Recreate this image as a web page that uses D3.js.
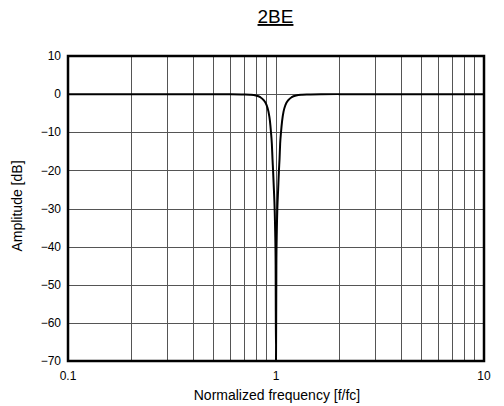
<!DOCTYPE html>
<html>
<head>
<meta charset="utf-8">
<script src="https://cdn.jsdelivr.net/npm/d3@7"></script>
<style>
  body { margin: 0; background: #fff; }
  text { font-family: "Liberation Sans", Arial, sans-serif; fill: #000; }
</style>
</head>
<body>
<div id="chart"></div>
<script>
// response (normalized freq, dB)
var freqs = [0.1, 0.3, 0.5, 0.6, 0.7, 0.75, 0.8, 0.84, 0.87, 0.9, 0.92, 0.935, 0.946, 0.955, 0.962, 0.968,
             0.977, 0.985, 0.991, 0.996, 1.0,
             1.004, 1.009, 1.015, 1.024, 1.033, 1.04, 1.047, 1.057, 1.07, 1.087, 1.111, 1.149, 1.19,
             1.25, 1.333, 1.429, 1.667, 2, 3.333, 10];
var amps = [0, 0, 0, -0.02, -0.08, -0.15, -0.35, -0.8, -1.5, -2.8, -4.6, -7, -10, -13, -17, -20,
            -25, -30, -36, -45, -70,
            -45, -36, -30, -25, -20, -17, -13, -10, -7, -4.6, -2.8, -1.5, -0.8,
            -0.35, -0.15, -0.08, -0.02, 0, 0, 0];
var yTicks = [10, 0, -10, -20, -30, -40, -50, -60, -70];
var xTicks = [0.1, 1, 10];
var xGrid = [0.2, 0.3, 0.4, 0.5, 0.6, 0.7, 0.8, 0.9, 1, 2, 3, 4, 5, 6, 7, 8, 9];

var W = 504, H = 406;
var pLeft = 68, pRight = 484, pTop = 56, pBottom = 361;

var svg = d3.select("#chart").append("svg")
    .attr("width", W)
    .attr("height", H);

var x = d3.scaleLog().domain([0.1, 10]).range([pLeft, pRight]);
var y = d3.scaleLinear().domain([-70, 10]).range([pBottom, pTop]);

svg.append("defs").append("clipPath").attr("id", "clip")
  .append("rect")
    .attr("x", pLeft).attr("y", pTop)
    .attr("width", pRight - pLeft).attr("height", pBottom - pTop);

// grid
svg.append("g").selectAll("line").data(xGrid).enter().append("line")
    .attr("x1", function(d){return Math.round(x(d)) + 0.5;})
    .attr("x2", function(d){return Math.round(x(d)) + 0.5;})
    .attr("y1", pTop).attr("y2", pBottom)
    .attr("stroke", "#555").attr("stroke-width", 1);

svg.append("g").selectAll("line").data(yTicks.slice(1, -1)).enter().append("line")
    .attr("x1", pLeft).attr("x2", pRight)
    .attr("y1", function(d){return Math.round(y(d)) + 0.5;})
    .attr("y2", function(d){return Math.round(y(d)) + 0.5;})
    .attr("stroke", "#555").attr("stroke-width", 1);

// curve
var line = d3.line()
    .x(function(d){return x(d[0]);})
    .y(function(d){return y(d[1]);})
    .curve(d3.curveMonotoneX);

svg.append("path")
    .datum(d3.zip(freqs, amps))
    .attr("clip-path", "url(#clip)")
    .attr("d", line)
    .attr("fill", "none")
    .attr("stroke", "#000")
    .attr("stroke-width", 2);

// frame
svg.append("rect")
    .attr("x", pLeft).attr("y", pTop)
    .attr("width", pRight - pLeft).attr("height", pBottom - pTop)
    .attr("fill", "none")
    .attr("stroke", "#000")
    .attr("stroke-width", 2.5);

// tick labels
svg.append("g").selectAll("text").data(yTicks).enter().append("text")
    .attr("x", 61)
    .attr("y", function(d){return y(d);})
    .attr("dy", "0.35em")
    .attr("text-anchor", "end")
    .style("font-size", "12px")
    .text(function(d){return d < 0 ? "\u2212" + Math.abs(d) : d;});

svg.append("g").selectAll("text").data(xTicks).enter().append("text")
    .attr("x", function(d){return x(d);})
    .attr("y", 380)
    .attr("text-anchor", "middle")
    .style("font-size", "12px")
    .text(function(d){return d;});

// labels
svg.append("text")
    .attr("x", 277).attr("y", 400)
    .attr("text-anchor", "middle")
    .style("font-size", "14px")
    .text("Normalized frequency [f/fc]");

svg.append("text")
    .attr("transform", "translate(22,206) rotate(-90)")
    .attr("text-anchor", "middle")
    .style("font-size", "14px")
    .text("Amplitude [dB]");

svg.append("text")
    .attr("x", 275.5).attr("y", 23)
    .attr("text-anchor", "middle")
    .style("font-size", "19px")
    .style("text-decoration", "underline")
    .text("2BE");
</script>
</body>
</html>
